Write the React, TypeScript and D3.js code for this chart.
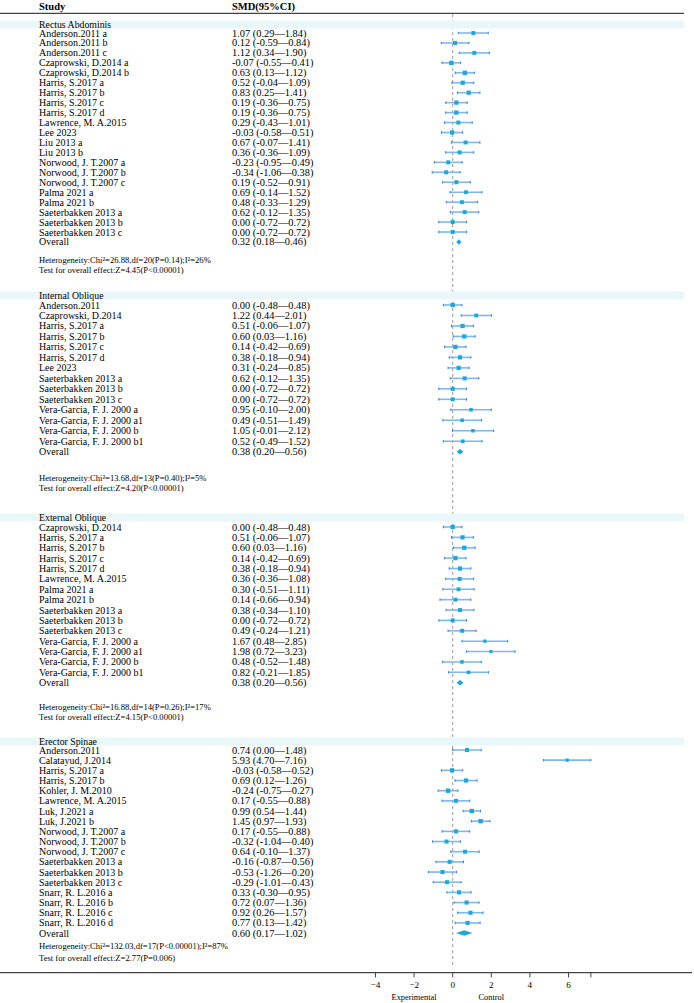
import * as d3 from "d3";

type Row = [string, number, number, number];

// study rows: name, SMD, lower, upper
const rectusRows: Row[] = [
  ["Anderson.2011 a", 1.07, 0.29, 1.84],
  ["Anderson.2011 b", 0.12, -0.59, 0.84],
  ["Anderson.2011 c", 1.12, 0.34, 1.9],
  ["Czaprowski, D.2014 a", -0.07, -0.55, 0.41],
  ["Czaprowski, D.2014 b", 0.63, 0.13, 1.12],
  ["Harris, S.2017 a", 0.52, -0.04, 1.09],
  ["Harris, S.2017 b", 0.83, 0.25, 1.41],
  ["Harris, S.2017 c", 0.19, -0.36, 0.75],
  ["Harris, S.2017 d", 0.19, -0.36, 0.75],
  ["Lawrence, M. A.2015", 0.29, -0.43, 1.01],
  ["Lee 2023", -0.03, -0.58, 0.51],
  ["Liu 2013 a", 0.67, -0.07, 1.41],
  ["Liu 2013 b", 0.36, -0.36, 1.09],
  ["Norwood, J. T.2007 a", -0.23, -0.95, 0.49],
  ["Norwood, J. T.2007 b", -0.34, -1.06, 0.38],
  ["Norwood, J. T.2007 c", 0.19, -0.52, 0.91],
  ["Palma 2021 a", 0.69, -0.14, 1.52],
  ["Palma 2021 b", 0.48, -0.33, 1.29],
  ["Saeterbakken 2013 a", 0.62, -0.12, 1.35],
  ["Saeterbakken 2013 b", 0.0, -0.72, 0.72],
  ["Saeterbakken 2013 c", 0.0, -0.72, 0.72],
];

const internalRows: Row[] = [
  ["Anderson.2011", 0.0, -0.48, 0.48],
  ["Czaprowski, D.2014", 1.22, 0.44, 2.01],
  ["Harris, S.2017 a", 0.51, -0.06, 1.07],
  ["Harris, S.2017 b", 0.6, 0.03, 1.16],
  ["Harris, S.2017 c", 0.14, -0.42, 0.69],
  ["Harris, S.2017 d", 0.38, -0.18, 0.94],
  ["Lee 2023", 0.31, -0.24, 0.85],
  ["Saeterbakken 2013 a", 0.62, -0.12, 1.35],
  ["Saeterbakken 2013 b", 0.0, -0.72, 0.72],
  ["Saeterbakken 2013 c", 0.0, -0.72, 0.72],
  ["Vera-Garcia, F. J. 2000 a", 0.95, -0.1, 2.0],
  ["Vera-Garcia, F. J. 2000 a1", 0.49, -0.51, 1.49],
  ["Vera-Garcia, F. J. 2000 b", 1.05, -0.01, 2.12],
  ["Vera-Garcia, F. J. 2000 b1", 0.52, -0.49, 1.52],
];

const externalRows: Row[] = [
  ["Czaprowski, D.2014", 0.0, -0.48, 0.48],
  ["Harris, S.2017 a", 0.51, -0.06, 1.07],
  ["Harris, S.2017 b", 0.6, 0.03, 1.16],
  ["Harris, S.2017 c", 0.14, -0.42, 0.69],
  ["Harris, S.2017 d", 0.38, -0.18, 0.94],
  ["Lawrence, M. A.2015", 0.36, -0.36, 1.08],
  ["Palma 2021 a", 0.3, -0.51, 1.11],
  ["Palma 2021 b", 0.14, -0.66, 0.94],
  ["Saeterbakken 2013 a", 0.38, -0.34, 1.1],
  ["Saeterbakken 2013 b", 0.0, -0.72, 0.72],
  ["Saeterbakken 2013 c", 0.49, -0.24, 1.21],
  ["Vera-Garcia, F. J. 2000 a", 1.67, 0.48, 2.85],
  ["Vera-Garcia, F. J. 2000 a1", 1.98, 0.72, 3.23],
  ["Vera-Garcia, F. J. 2000 b", 0.48, -0.52, 1.48],
  ["Vera-Garcia, F. J. 2000 b1", 0.82, -0.21, 1.85],
];

const erectorRows: Row[] = [
  ["Anderson.2011", 0.74, 0.0, 1.48],
  ["Calatayud, J.2014", 5.93, 4.7, 7.16],
  ["Harris, S.2017 a", -0.03, -0.58, 0.52],
  ["Harris, S.2017 b", 0.69, 0.12, 1.26],
  ["Kohler, J. M.2010", -0.24, -0.75, 0.27],
  ["Lawrence, M. A.2015", 0.17, -0.55, 0.88],
  ["Luk, J.2021 a", 0.99, 0.54, 1.44],
  ["Luk, J.2021 b", 1.45, 0.97, 1.93],
  ["Norwood, J. T.2007 a", 0.17, -0.55, 0.88],
  ["Norwood, J. T.2007 b", -0.32, -1.04, 0.4],
  ["Norwood, J. T.2007 c", 0.64, -0.1, 1.37],
  ["Saeterbakken 2013 a", -0.16, -0.87, 0.56],
  ["Saeterbakken 2013 b", -0.53, -1.26, 0.2],
  ["Saeterbakken 2013 c", -0.29, -1.01, 0.43],
  ["Snarr, R. L.2016 a", 0.33, -0.3, 0.95],
  ["Snarr, R. L.2016 b", 0.72, 0.07, 1.36],
  ["Snarr, R. L.2016 c", 0.92, 0.26, 1.57],
  ["Snarr, R. L.2016 d", 0.77, 0.13, 1.42],
];

const groupNames = ["Rectus Abdominis", "Internal Oblique", "External Oblique", "Erector Spinae"];
const groupRows = [rectusRows, internalRows, externalRows, erectorRows];
const overallRows: [number, number, number][] = [
  [0.32, 0.18, 0.46],
  [0.38, 0.2, 0.56],
  [0.38, 0.2, 0.56],
  [0.6, 0.17, 1.02],
];
const heterogeneityText = [
  "Heterogeneity:Chi²=26.88,df=20(P=0.14);I²=26%",
  "Heterogeneity:Chi²=13.68,df=13(P=0.40);I²=5%",
  "Heterogeneity:Chi²=16.88,df=14(P=0.26);I²=17%",
  "Heterogeneity:Chi²=132.03,df=17(P<0.00001);I²=87%",
];
const effectText = [
  "Test for overall effect:Z=4.45(P<0.00001)",
  "Test for overall effect:Z=4.20(P<0.00001)",
  "Test for overall effect:Z=4.15(P<0.00001)",
  "Test for overall effect:Z=2.77(P=0.006)",
];
const axisTicks = [-4, -2, 0, 2, 4, 6];
const sideLabels: [string, number][] = [["Experimental", -2], ["Control", 2]];

// vertical layout of each panel (px)
const layout = [
  { band: 24.3, first: 33, step: 9.95, het: 259.5, test: 269.5 },
  { band: 295.3, first: 305, step: 10.48, het: 477.7, test: 487.7 },
  { band: 517.3, first: 527, step: 10.38, het: 706.7, test: 717.3 },
  { band: 741.3, first: 750, step: 10.17, het: 946, test: 958 },
];

const W = 694;
const H = 1003;
const font = "'Liberation Serif', 'Times New Roman', serif";
const nameX = 39;
const ciX = 232;
const axisY = 972.7;

const x = d3.scaleLinear().domain([-4, 6]).range([375.5, 568.5]);
const allUpper = groupRows.flat().map((r) => r[3]);
const maxUpper = d3.max(allUpper) ?? 7;
const size = d3.scaleLinear().domain([0.4, 2.5]).range([4.8, 3.2]).clamp(true);

const fmt = (v: number) => v.toFixed(2);
const ciLabel = (m: number, lo: number, hi: number) => `${fmt(m)} (${fmt(lo)}—${fmt(hi)})`;

function Panel({ gi }: { gi: number }) {
  const rows = groupRows[gi];
  const L = layout[gi];
  const y = d3.scaleLinear().domain([0, 1]).range([L.first, L.first + L.step]);
  const [om, olo, ohi] = overallRows[gi];
  const oy = y(rows.length);
  const dh = 2.8;
  return (
    <g>
      <rect x={0} y={L.band - 3.8} width={684} height={8} fill="#eaf7fa" />
      <text x={nameX} y={L.band} dominantBaseline="central" fontSize={9.8}>{groupNames[gi]}</text>
      {rows.map((r, i) => {
        const yy = y(i);
        const s = size(r[3] - r[2]);
        return (
          <g key={i}>
            <text x={nameX} y={yy} dominantBaseline="central" fontSize={10}>{r[0]}</text>
            <text x={ciX} y={yy} dominantBaseline="central" fontSize={10.4}>{ciLabel(r[1], r[2], r[3])}</text>
            <line x1={x(r[2])} x2={x(r[3])} y1={yy} y2={yy} stroke="#7fb6ec" strokeWidth={1.6} />
            <line x1={x(r[2])} x2={x(r[2])} y1={yy - 1.3} y2={yy + 1.3} stroke="#3a82d8" strokeWidth={1} />
            <line x1={x(r[3])} x2={x(r[3])} y1={yy - 1.3} y2={yy + 1.3} stroke="#3a82d8" strokeWidth={1} />
            <rect x={x(r[1]) - s / 2} y={yy - s / 2} width={s} height={s} fill="#1aa8df" />
          </g>
        );
      })}
      <text x={nameX} y={oy} dominantBaseline="central" fontSize={10}>Overall</text>
      <text x={ciX} y={oy} dominantBaseline="central" fontSize={10.4}>{ciLabel(om, olo, ohi)}</text>
      <path
        d={`M${x(olo)},${oy} L${x(om)},${oy - dh} L${x(ohi)},${oy} L${x(om)},${oy + dh} Z`}
        fill="#1aa8df"
      />
      <text x={nameX} y={L.het} dominantBaseline="central" fontSize={8.6}>{heterogeneityText[gi]}</text>
      <text x={nameX} y={L.test} dominantBaseline="central" fontSize={8.6}>{effectText[gi]}</text>
    </g>
  );
}

export default function App() {
  const ticks = [...axisTicks, maxUpper];
  return (
    <div style={{ position: "absolute", left: 0, top: 0 }}>
      <svg width={W} height={H} fontFamily={font} style={{ display: "block", background: "#fff" }}>
        <text x={nameX} y={6} dominantBaseline="central" fontSize={10.5} fontWeight="bold">Study</text>
        <text x={ciX} y={6} dominantBaseline="central" fontSize={10.5} fontWeight="bold">SMD(95%CI)</text>
        <line x1={0} x2={684} y1={13.3} y2={13.3} stroke="#444" strokeWidth={1.3} />
        <line x1={x(0)} x2={x(0)} y1={14} y2={966} stroke="#9a9a9a" strokeWidth={1} strokeDasharray="3,3" />
        {groupNames.map((_, gi) => (
          <Panel key={gi} gi={gi} />
        ))}
        <line x1={0} x2={692} y1={axisY} y2={axisY} stroke="#444" strokeWidth={1.3} />
        {ticks.map((t, i) => (
          <g key={i}>
            <line x1={x(t)} x2={x(t)} y1={axisY} y2={axisY + 4.7} stroke="#444" strokeWidth={1} />
            {i < axisTicks.length && (
              <text x={x(t)} y={axisY + 12.5} textAnchor="middle" dominantBaseline="central" fontSize={9.2}>
                {t < 0 ? `−${Math.abs(t)}` : `${t}`}
              </text>
            )}
          </g>
        ))}
        {sideLabels.map(([lab, v]) => (
          <text key={lab} x={x(v)} y={axisY + 24.5} textAnchor="middle" dominantBaseline="central" fontSize={8.4}>
            {lab}
          </text>
        ))}
      </svg>
    </div>
  );
}
